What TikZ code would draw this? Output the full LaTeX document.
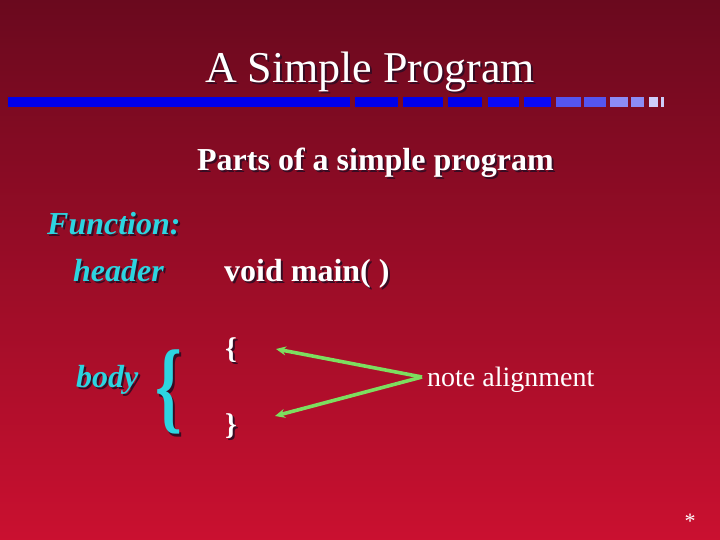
\documentclass[tikz,border=0pt]{standalone}
\usepackage{fontspec}
\setmainfont{Liberation Serif}
\usetikzlibrary{arrows.meta}
\definecolor{bgtop}{RGB}{106,9,30}
\definecolor{bgbot}{RGB}{202,16,48}
\definecolor{cyantext}{RGB}{45,212,224}
\definecolor{arrowgreen}{RGB}{125,222,95}
\definecolor{barA}{RGB}{0,0,235}
\definecolor{barB}{RGB}{10,10,245}
\definecolor{barC}{RGB}{85,85,240}
\definecolor{barD}{RGB}{140,140,245}
\definecolor{barE}{RGB}{205,205,250}
\definecolor{shadowcol}{RGB}{55,12,35}
\newcommand{\shadowtext}[1]{\makebox[0pt][l]{\hspace{2pt}\raisebox{-2pt}{\textcolor{shadowcol}{#1}}}#1}
\tikzset{
  txt/.style={inner sep=0pt, anchor=base west, text=white},
  ctxt/.style={inner sep=0pt, anchor=base, text=white},
  cy/.style={text=cyantext},
  pointer/.style={draw=arrowgreen, line width=3.6pt, -{Stealth[length=10pt,width=9pt]}}
}
\begin{document}
\begin{tikzpicture}[x=1pt,y=-1pt]
\useasboundingbox (0,0) rectangle (720,540);
\shade[top color=bgtop, bottom color=bgbot] (0,0) rectangle (720,540);
% bar
\fill[barA] (8,97) rectangle (350,107);
\fill[barA] (355,97) rectangle (398,107);
\fill[barA] (403,97) rectangle (443,107);
\fill[barA] (448,97) rectangle (482,107);
\fill[barB] (488,97) rectangle (519,107);
\fill[barB] (524,97) rectangle (551,107);
\fill[barC] (556,97) rectangle (581,107);
\fill[barC] (584,97) rectangle (606,107);
\fill[barD] (610,97) rectangle (628,107);
\fill[barD] (631,97) rectangle (644,107);
\fill[barE] (649,97) rectangle (658,107);
\fill[barE] (661,97) rectangle (664,107);
% title
\node[ctxt, font=\fontsize{44}{44}\selectfont] (title) at (370,83) {\shadowtext{A Simple Program}};
% subtitle
\node[ctxt, font=\bfseries\fontsize{32}{32}\selectfont] (parts) at (375.5,171) {\shadowtext{Parts of a simple program}};
% left labels
\node[txt, cy, font=\bfseries\itshape\fontsize{32}{32}\selectfont] (func) at (47,234) {\shadowtext{Function:}};
\node[txt, cy, font=\bfseries\itshape\fontsize{32}{32}\selectfont] (header) at (73,281) {\shadowtext{header}};
\node[txt, cy, font=\bfseries\itshape\fontsize{32}{32}\selectfont] (body) at (76,387) {\shadowtext{body}};
% big brace
\node[cy, inner sep=0pt, font=\bfseries\fontsize{68}{68}\selectfont, yscale=1.5, transform shape] (brace) at (169,393) {\shadowtext{\{}};
% code
\node[txt, font=\bfseries\fontsize{32}{32}\selectfont] (voidmain) at (224,281) {\shadowtext{void main( )}};
\node[txt, font=\bfseries\fontsize{30}{30}\selectfont] (lbr) at (225,358) {\shadowtext{\{}};
\node[txt, font=\bfseries\fontsize{30}{30}\selectfont] (rbr) at (225,434) {\shadowtext{\}}};
% note
\node[txt, font=\fontsize{28}{28}\selectfont] (note) at (427,386) {note alignment};
\coordinate (v) at (422,377);
\coordinate (tipA) at (276,349);
\coordinate (tipB) at (275,416);
\draw[pointer] (v) -- (tipA);
\draw[pointer] (v) -- (tipB);
% star
\node[ctxt, font=\fontsize{22}{22}\selectfont] (star) at (690,528) {*};
\end{tikzpicture}
\end{document}
